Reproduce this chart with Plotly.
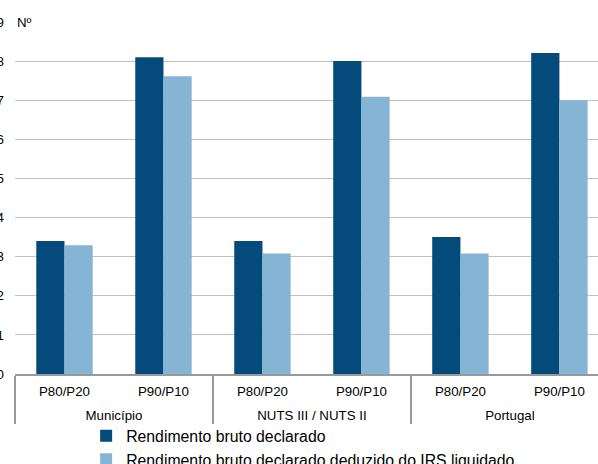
import plotly.graph_objects as go

groups = ["Município", "Município", "NUTS III / NUTS II", "NUTS III / NUTS II", "Portugal", "Portugal"]
ratios = ["P80/P20", "P90/P10", "P80/P20", "P90/P10", "P80/P20", "P90/P10"]
bruto = [3.40, 8.10, 3.40, 8.00, 3.50, 8.21]
liquido = [3.29, 7.61, 3.08, 7.09, 3.08, 7.00]
y_ticks = [0, 1, 2, 3, 4, 5, 6, 7, 8, 9]

FONT = "Liberation Sans, Arial, sans-serif"

# taller blank spacers on each side push the group row further down
SP = "<span style='font-size:23px'>\u00a0</span>"
ratio_labels = [SP + r + SP for r in ratios]

fig = go.Figure()
fig.add_trace(go.Bar(x=[groups, ratio_labels], y=bruto, name="Rendimento bruto declarado",
                     marker=dict(color="#044b7c", line=dict(width=0))))
fig.add_trace(go.Bar(x=[groups, ratio_labels], y=liquido,
                     name="Rendimento bruto declarado deduzido do IRS liquidado",
                     marker=dict(color="#86b4d4", line=dict(width=0))))

fig.update_layout(
    width=598, height=464,
    margin=dict(l=15, r=0, t=22, b=90, autoexpand=False),
    paper_bgcolor="white", plot_bgcolor="white",
    font=dict(family=FONT, size=13.3, color="black"),
    barmode="group", bargap=0.43, bargroupgap=0,
    showlegend=True,
    legend=dict(orientation="v", x=0.122, xanchor="left", y=-0.128, yanchor="top",
                font=dict(size=15.8, color="black"), itemwidth=30,
                bgcolor="rgba(0,0,0,0)", tracegroupgap=0),
    xaxis=dict(type="multicategory", range=[-0.5, 5.39], automargin=False,
               showline=True, linecolor="#999999", linewidth=2,
               showdividers=True, dividercolor="#999999", dividerwidth=1.5,
               tickfont=dict(size=13.3, color="black"), showgrid=False,
               ticks="", ticklabelstandoff=4),
    yaxis=dict(range=[0, 9], tickvals=y_ticks, showgrid=True, gridcolor="#c0c0c0",
               gridwidth=1, zeroline=False, showline=False, ticks="", automargin=False,
               tickfont=dict(size=13.3, color="black"), ticklabelstandoff=10),
)
fig.add_annotation(text="Nº", xref="paper", x=0, xanchor="left", yref="y", y=9,
                   yanchor="middle", showarrow=False, bgcolor="white",
                   font=dict(size=13.3, color="black"), borderpad=1)

fig.write_html("out.html", config={"displayModeBar": False},
               post_script="document.body.style.margin='0';")
